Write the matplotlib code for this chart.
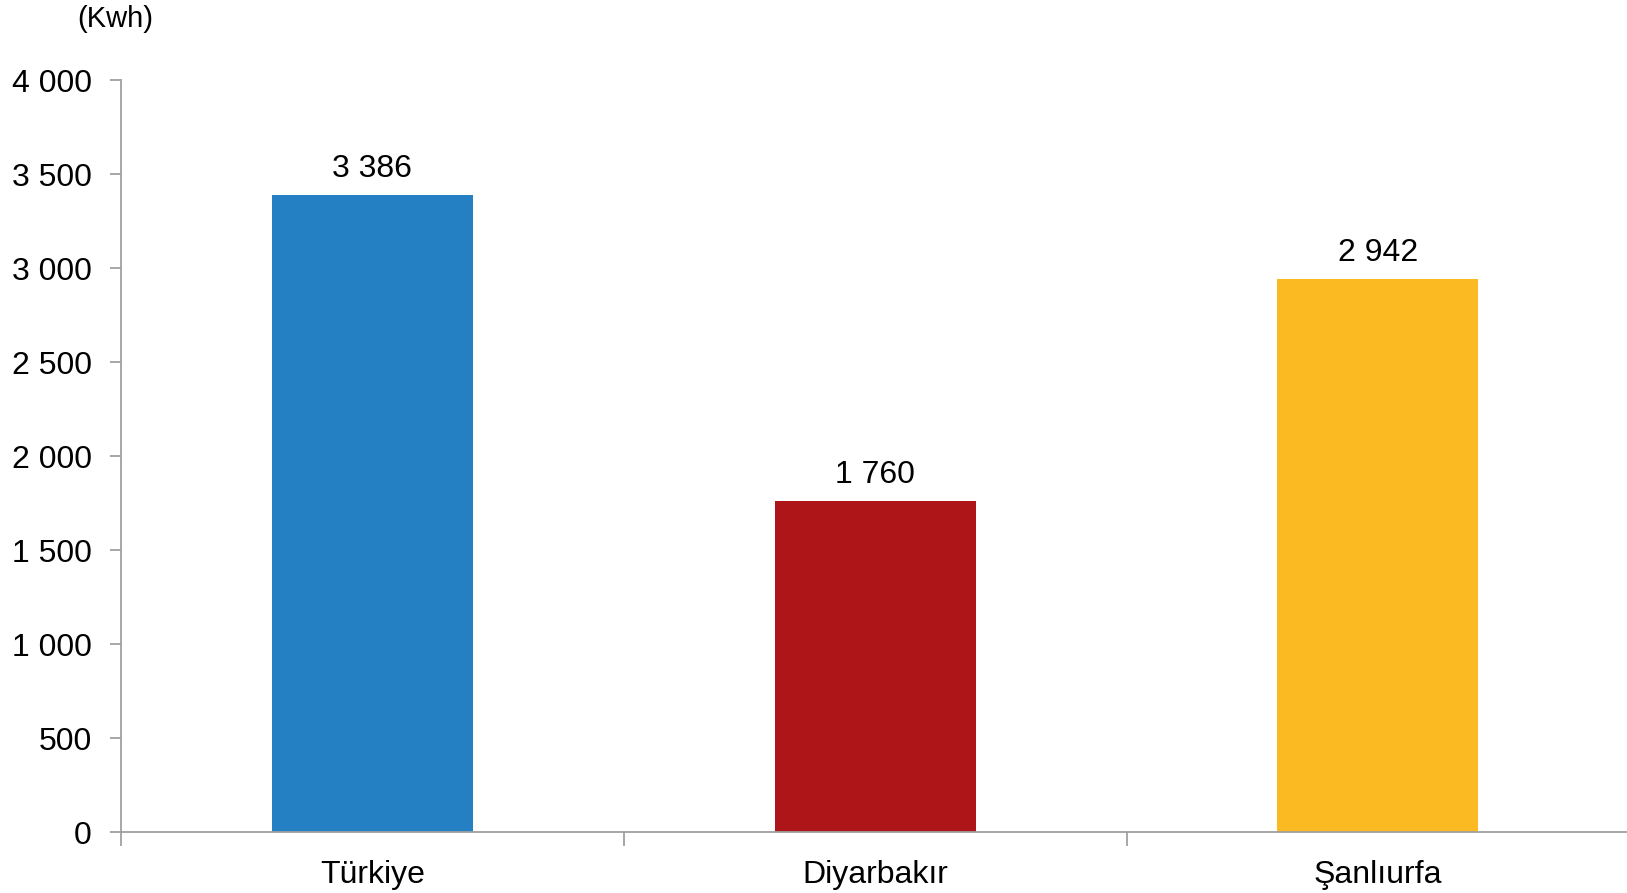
import matplotlib
matplotlib.use("Agg")
import matplotlib.pyplot as plt
from matplotlib.ticker import FuncFormatter, FixedLocator

plt.rcParams['font.family'] = ['Liberation Sans', 'DejaVu Sans']

# Kişi başı elektrik tüketimi (Kwh)
regions = ["Türkiye", "Diyarbakır", "Şanlıurfa"]
values = [3386, 1760, 2942]
colors = ["#2580C3", "#AD1519", "#FBBA22"]
yticks = [0, 500, 1000, 1500, 2000, 2500, 3000, 3500, 4000]


def fmt(v):
    return "{:,}".format(int(v)).replace(",", " ")


fig = plt.figure(figsize=(16.27, 8.93), dpi=100)
ax = fig.add_axes([0.0744, 0.0683, 0.927, 0.8421])

x = list(range(len(regions)))
ax.bar(x, values, width=0.4, color=colors, zorder=2)

for xi, v in zip(x, values):
    ax.text(xi, v + 60, fmt(v), ha="center", va="bottom", fontsize=23)

ax.set_xlim(-0.5, len(regions) - 0.5)
ax.set_ylim(0, 4000)
ax.set_yticks(yticks)
ax.yaxis.set_major_formatter(FuncFormatter(lambda v, p: fmt(v)))

ax.set_xticks(x)
ax.set_xticklabels(regions)
ax.xaxis.set_minor_locator(FixedLocator([-0.5, 0.5, 1.5]))

for s in ["top", "right"]:
    ax.spines[s].set_visible(False)
for s in ["left", "bottom"]:
    ax.spines[s].set_color("#a0a0a0")
    ax.spines[s].set_linewidth(1.3)

ax.tick_params(axis="y", length=8, width=1.3, color="#a0a0a0", pad=13, labelsize=23)
ax.tick_params(axis="x", which="major", length=0, pad=20, labelsize=23)
ax.tick_params(axis="x", which="minor", length=10, width=1.3, color="#a0a0a0")

fig.text(115 / 1627, 1 - 19 / 893, "(Kwh)", ha="center", va="center", fontsize=21)

fig.savefig("out.png", dpi=100)
